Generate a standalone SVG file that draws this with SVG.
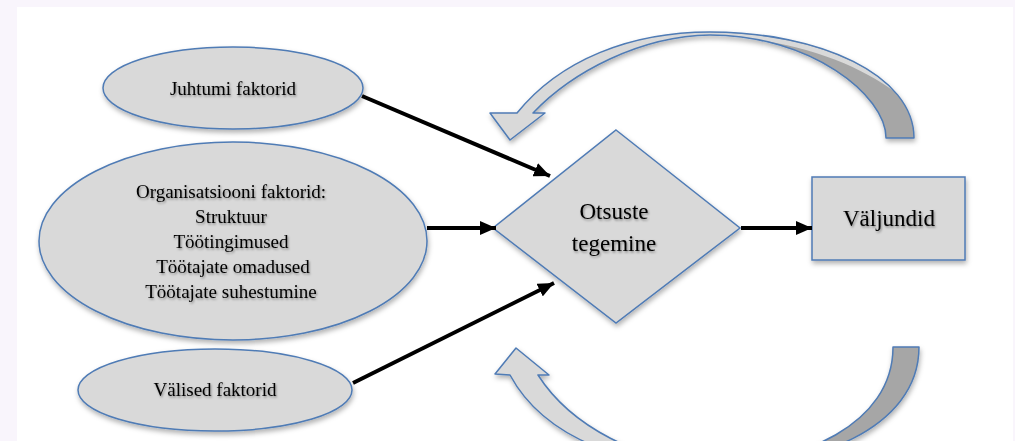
<svg xmlns="http://www.w3.org/2000/svg" width="1015" height="441" viewBox="0 0 1015 441">
  <defs>
    <style>
      .shape { fill: #D9D9D9; stroke: #4F7BB5; stroke-width: 1.5; }
      .label { font-family: "Liberation Serif", "Times New Roman", serif; fill: #000; text-anchor: middle; }
      .small { font-size: 19px; }
      .big { font-size: 23px; }
      .link { stroke: #000; stroke-width: 4; fill: none; marker-end: url(#head); }
      .band-light { fill: #D9D9D9; }
      .band-dark { fill: #A6A6A6; }
      .band-edge { fill: none; stroke: #4F7BB5; stroke-width: 1.5; stroke-linejoin: round; }
    </style>
    <filter id="shadow" x="-20%" y="-20%" width="140%" height="150%">
      <feDropShadow dx="1" dy="3" stdDeviation="2.5" flood-color="#000" flood-opacity="0.3"/>
    </filter>
    <filter id="textglow" x="-10%" y="-30%" width="120%" height="160%">
      <feDropShadow dx="1" dy="1.5" stdDeviation="1" flood-color="#000" flood-opacity="0.4"/>
    </filter>
    <marker id="head" markerUnits="userSpaceOnUse" markerWidth="17" markerHeight="14" refX="16" refY="7" orient="auto">
      <path d="M0,0 L16,7 L0,14 Z" fill="#000"/>
    </marker>
  </defs>

  <!-- page frame -->
  <rect x="0" y="0" width="1015" height="441" fill="#F9F5FC"/>
  <rect x="17" y="7" width="996" height="434" fill="#FFFFFF"/>

  <!-- feedback loop above -->
  <g id="loop-top" filter="url(#shadow)">
    <path class="band-light" d="M510,140 L490,113 L517,113 C560,60 630,32 710,32 L710,35 C640,36 572,72 533,113 L545,113 Z"/>
    <path class="band-dark" d="M710,32 C820,32 914,75 914,138 L886,138 C886,95 810,35 710,35 Z"/>
    <!-- thin front-face sliver along the outer rim -->
    <path class="band-light" d="M700,32 C790,32 860,55 895,92 C855,62 790,37 700,35 Z"/>
    <path class="band-edge" d="M510,140 L490,113 L517,113 C560,60 630,32 710,32 C820,32 914,75 914,138 L886,138 C886,95 810,35 710,35 C640,36 572,72 533,113 L545,113 Z"/>
  </g>

  <!-- feedback loop below -->
  <g id="loop-bottom" filter="url(#shadow)">
    <path class="band-light" d="M516,348 L495,374 L510,375 C545,440 630,468 715,468 L715,464 C640,464 570,425 538,375 L549,375 Z"/>
    <path class="band-dark" d="M715,468 C810,468 919,430 919,347 L893,347 C893,425 800,464 715,464 Z"/>
    <path class="band-edge" d="M516,348 L495,374 L510,375 C545,440 630,468 715,468 C810,468 919,430 919,347 L893,347 C893,425 800,464 715,464 C640,464 570,425 538,375 L549,375 Z"/>
  </g>

  <!-- nodes -->
  <g id="juhtumi">
    <ellipse class="shape" cx="233" cy="88" rx="130" ry="41" filter="url(#shadow)"/>
    <text class="label small" x="233" y="95" filter="url(#textglow)">Juhtumi faktorid</text>
  </g>

  <g id="organisatsioon">
    <ellipse class="shape" cx="233" cy="241" rx="194" ry="99" filter="url(#shadow)"/>
    <g class="label small" filter="url(#textglow)">
      <text x="231" y="198">Organisatsiooni faktorid:</text>
      <text x="231" y="223">Struktuur</text>
      <text x="231" y="248">Töötingimused</text>
      <text x="233" y="273">Töötajate omadused</text>
      <text x="231" y="298">Töötajate suhestumine</text>
    </g>
  </g>

  <g id="valised">
    <ellipse class="shape" cx="215" cy="390" rx="137" ry="41" filter="url(#shadow)"/>
    <text class="label small" x="215" y="396" filter="url(#textglow)">Välised faktorid</text>
  </g>

  <g id="otsustamine">
    <polygon class="shape" points="616,130 740,228 616,323 493,228" filter="url(#shadow)"/>
    <g class="label big" filter="url(#textglow)">
      <text x="614" y="219">Otsuste</text>
      <text x="614" y="251">tegemine</text>
    </g>
  </g>

  <g id="valjundid">
    <rect class="shape" x="812" y="177" width="153" height="83" filter="url(#shadow)"/>
    <text class="label big" x="889" y="226" filter="url(#textglow)">Väljundid</text>
  </g>

  <!-- connectors -->
  <g id="connectors">
    <line class="link" x1="362" y1="96" x2="550" y2="176"/>
    <line class="link" x1="427" y1="228" x2="496" y2="228"/>
    <line class="link" x1="353" y1="383" x2="554" y2="283"/>
    <line class="link" x1="741" y1="228" x2="812" y2="228"/>
  </g>
</svg>
